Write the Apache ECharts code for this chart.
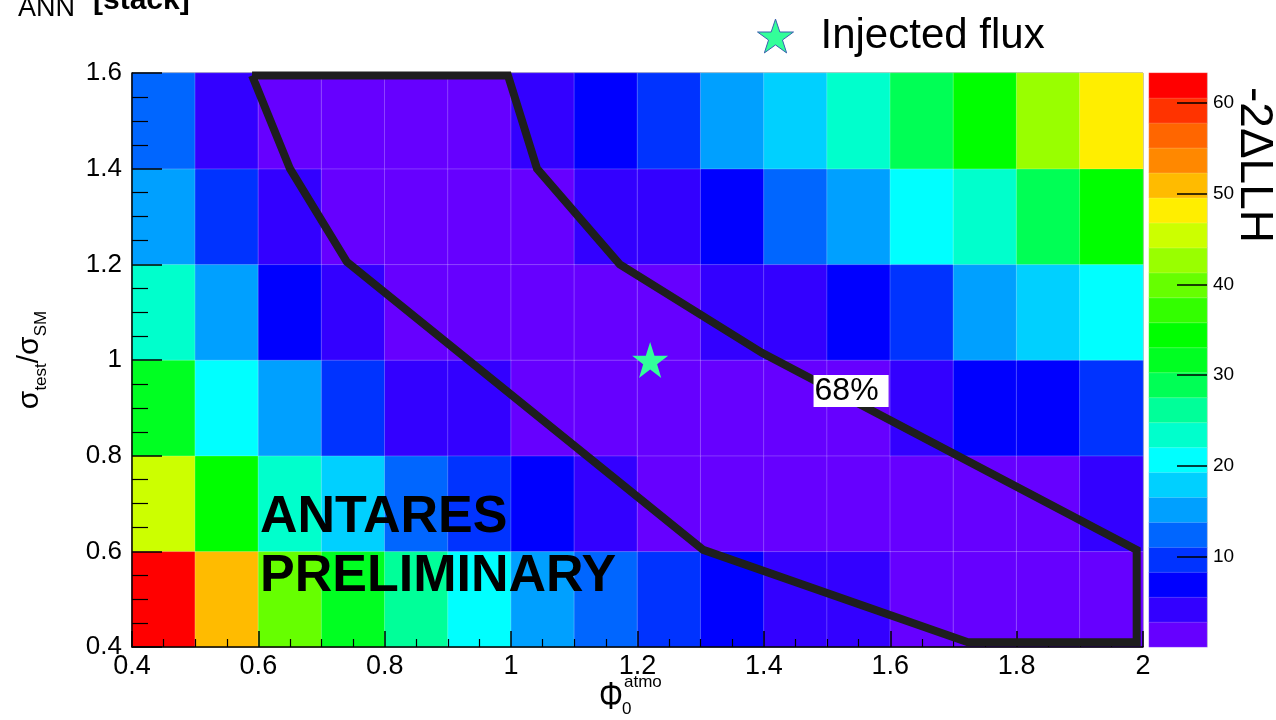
<!DOCTYPE html>
<html>
<head>
<meta charset="utf-8">
<script src="https://cdn.jsdelivr.net/npm/echarts@6/dist/echarts.min.js"></script>
<style>
  html, body { margin: 0; padding: 0; background: #fff; }
  #chart { width: 1276px; height: 720px; }
</style>
</head>
<body>
<div id="chart"></div>
<script>
// bin centres of the scan grid
const phiBins = [0.45, 0.55, 0.65, 0.75, 0.85, 0.95, 1.05, 1.15, 1.25, 1.35, 1.45, 1.55, 1.65, 1.75, 1.85, 1.95]
const sigmaBins = [0.5, 0.7, 0.9, 1.1, 1.3, 1.5]

// -2 delta LLH per bin, one array per sigma row (bottom to top)
const llhSigma05 = [62, 51, 40, 32, 26, 21, 15, 12.5, 9.6, 7.0, 4.2, 3.9, 1.5, 1.2, 1.0, 1.3]
const llhSigma07 = [45, 34, 23.5, 18, 12.3, 9.5, 7.1, 4.0, 1.6, 1.1, 0.9, 0.8, 1.0, 1.2, 1.6, 4.1]
const llhSigma09 = [31.8, 21, 15.2, 9.7, 4.3, 4.0, 2.1, 1.4, 0.9, 0.6, 0.8, 1.5, 4.0, 7.0, 7.3, 9.6]
const llhSigma11 = [23.4, 15.1, 6.9, 4.2, 2.2, 1.3, 0.8, 0.5, 0.7, 4.1, 4.3, 6.9, 9.5, 15.2, 18, 20.8]
const llhSigma13 = [15, 9.6, 4.1, 2.3, 1.5, 1.2, 1.6, 4.0, 4.2, 7.0, 12.4, 15, 20.7, 23.5, 29, 34.5]
const llhSigma15 = [12.2, 4.2, 2.0, 1.7, 1.8, 2.2, 4.1, 7.0, 9.6, 15.2, 18, 23.3, 29, 34.4, 42.7, 48.2]
const llhRows = [llhSigma05, llhSigma07, llhSigma09, llhSigma11, llhSigma13, llhSigma15]

// 68% contour (phi, sigma)
const contour68 = [
  [0.59, 1.595], [0.995, 1.595], [1.041, 1.4], [1.172, 1.2], [1.397, 1.015],
  [1.99, 0.603], [1.99, 0.41], [1.723, 0.41], [1.304, 0.603], [0.74, 1.205],
  [0.65, 1.4], [0.59, 1.595]
]
const injected = [[1.22, 1.0]]
const contourLabel = [[1.538, 0.935]]

// colour palette, lowest level first
const zMax = 63.3
const palette = [
  '#6600ff', '#3300ff', '#0000ff', '#0033ff', '#0066ff', '#00a0ff', '#00d0ff', '#00ffff',
  '#00ffcc', '#00ff99', '#00ff55', '#00ff22', '#00ff00', '#33ff00', '#66ff00', '#99ff00',
  '#ccff00', '#ffee00', '#ffbb00', '#ff8800', '#ff6600', '#ff3300', '#ff0000'
]
const zTicks = [10, 20, 30, 40, 50, 60]

const FONT = 'Liberation Sans'
const starPath = 'path://M50,0 L61.8,35.1 L98.9,35.1 L68.9,56.9 L80.2,91.9 L50,70.2 L19.8,91.9 L31.1,56.9 L1.1,35.1 L38.2,35.1 Z'

const levelWidth = zMax / palette.length
const pieces = palette.map((c, i) => ({ gte: i * levelWidth, lt: (i + 1) * levelWidth, color: c }))
pieces[pieces.length - 1].lte = zMax
delete pieces[pieces.length - 1].lt

const cellData = []
llhRows.forEach((row, j) => row.forEach((v, i) => cellData.push([i, j, v])))
const barData = palette.map((c, i) => [0, i, (i + 0.5) * levelWidth])

const chart = echarts.init(document.getElementById('chart'))

const option = {
  animation: false,
  grid: [
    { left: 132, top: 73, width: 1011, height: 574, show: true, borderColor: '#666', borderWidth: 1, outerBoundsMode: 'none', containLabel: false },
    { left: 1149, top: 73, width: 58, height: 574, outerBoundsMode: 'none', containLabel: false }
  ],
  visualMap: {
    type: 'piecewise',
    show: false,
    seriesIndex: [0, 1],
    dimension: 2,
    pieces: pieces
  },
  legend: {
    data: [{ name: 'Injected flux', icon: starPath }],
    left: 752,
    top: 10,
    itemWidth: 36,
    itemHeight: 34,
    itemStyle: { borderColor: '#3a5fb0', borderWidth: 1 },
    textStyle: { fontFamily: FONT, fontSize: 42, color: '#000', padding: [0, 0, 0, 22] }
  },
  xAxis: [
    { type: 'category', gridIndex: 0, data: phiBins, show: false },
    {
      type: 'value', gridIndex: 0, min: 0.4, max: 2.0, interval: 0.2, position: 'bottom', z: 10,
      axisLine: { lineStyle: { color: '#000', width: 1.5 } },
      axisTick: { inside: true, length: 16, lineStyle: { color: '#000', width: 1.5 } },
      minorTick: { show: true, splitNumber: 4, length: 8, lineStyle: { color: '#000', width: 1.2 } },
      splitLine: { show: false },
      axisLabel: { fontFamily: FONT, fontSize: 27, color: '#000', margin: 6 }
    },
    { type: 'category', gridIndex: 1, data: [''], show: false }
  ],
  yAxis: [
    { type: 'category', gridIndex: 0, data: sigmaBins, show: false },
    {
      type: 'value', gridIndex: 0, min: 0.4, max: 1.6, interval: 0.2, position: 'left', z: 10,
      axisLine: { lineStyle: { color: '#000', width: 1.5 } },
      axisTick: { inside: true, length: 30, lineStyle: { color: '#000', width: 1.5 } },
      minorTick: { show: true, splitNumber: 4, length: 16, lineStyle: { color: '#000', width: 1.2 } },
      splitLine: { show: false },
      axisLabel: { fontFamily: FONT, fontSize: 26, color: '#000', margin: 10 },
      name: '{s|σ}{sub|test}{s|/σ}{sub|SM}',
      nameLocation: 'middle',
      nameGap: 82,
      nameTextStyle: {
        rich: {
          s: { fontFamily: FONT, fontSize: 30, lineHeight: 40, color: '#000' },
          sub: { fontFamily: FONT, fontSize: 17, lineHeight: 17, verticalAlign: 'bottom', color: '#000' }
        }
      }
    },
    { type: 'category', gridIndex: 1, data: palette.map((c, i) => i), show: false },
    {
      type: 'value', gridIndex: 1, min: 0, max: zMax, interval: 10, position: 'right', z: 10,
      axisLine: { show: true, lineStyle: { color: 'rgba(0,0,0,0.12)', width: 1 } },
      axisTick: { show: true, inside: true, length: 30, customValues: zTicks, lineStyle: { color: '#000', width: 1.5 } },
      axisLabel: { customValues: zTicks, fontFamily: FONT, fontSize: 19, color: '#000', margin: 6 },
      splitLine: { show: false }
    }
  ],
  series: [
    {
      type: 'heatmap', xAxisIndex: 0, yAxisIndex: 0, data: cellData, z: 1,
      itemStyle: { borderColor: 'rgba(255,255,255,0.22)', borderWidth: 1 },
      emphasis: { disabled: true }, silent: true
    },
    {
      type: 'heatmap', xAxisIndex: 2, yAxisIndex: 2, data: barData, z: 1,
      itemStyle: { borderColor: 'rgba(255,255,255,0.18)', borderWidth: 1 },
      emphasis: { disabled: true }, silent: true
    },
    {
      type: 'line', xAxisIndex: 1, yAxisIndex: 1, data: contour68,
      symbol: 'none', clip: false, z: 12, silent: true,
      lineStyle: { color: '#1e1e1e', width: 8, join: 'miter' }
    },
    {
      name: 'Injected flux', type: 'scatter', xAxisIndex: 1, yAxisIndex: 1, data: injected,
      symbol: starPath, symbolSize: 36, z: 13,
      itemStyle: { color: '#33ff99', opacity: 1 }
    },
    {
      type: 'scatter', xAxisIndex: 1, yAxisIndex: 1, data: contourLabel,
      symbolSize: 1, z: 14, silent: true,
      itemStyle: { color: 'rgba(0,0,0,0)', opacity: 1 },
      label: {
        show: true, position: 'inside', formatter: '68%',
        fontFamily: FONT, fontSize: 32, lineHeight: 32, color: '#000',
        backgroundColor: '#fff', padding: [0, 10, 0, 1]
      }
    }
  ],
  graphic: [
    // title fragment cut by the top of the slide
    { type: 'text', x: -6, y: 6, style: { text: 'L', fontFamily: FONT, fontSize: 44, fill: '#000', align: 'left', verticalAlign: 'bottom' } },
    { type: 'text', x: 18, y: 22, style: { text: 'ANN', fontFamily: FONT, fontSize: 27, fill: '#000', align: 'left', verticalAlign: 'bottom' } },
    { type: 'text', x: 93, y: 16, style: { text: '[stack]', fontFamily: FONT, fontWeight: 'bold', fontSize: 30, fill: '#000', align: 'left', verticalAlign: 'bottom' } },
    // watermark
    { type: 'text', x: 260, y: 518, z: 20, style: { text: 'ANTARES', fontFamily: FONT, fontWeight: 'bold', fontSize: 52, fill: '#000', align: 'left', verticalAlign: 'middle' } },
    { type: 'text', x: 260, y: 577, z: 20, style: { text: 'PRELIMINARY', fontFamily: FONT, fontWeight: 'bold', fontSize: 52, fill: '#000', align: 'left', verticalAlign: 'middle' } },
    // x axis title
    { type: 'text', x: 611, y: 698, scaleY: 1.3, style: { text: 'Φ', fontFamily: FONT, fontSize: 30, fill: '#000', align: 'center', verticalAlign: 'middle' } },
    { type: 'text', x: 624, y: 682, style: { text: 'atmo', fontFamily: FONT, fontSize: 17, fill: '#000', align: 'left', verticalAlign: 'middle' } },
    { type: 'text', x: 622, y: 709, style: { text: '0', fontFamily: FONT, fontSize: 17, fill: '#000', align: 'left', verticalAlign: 'middle' } },
    // colour bar title
    { type: 'text', x: 1254, y: 165, rotation: -Math.PI / 2, style: { text: '-2ΔLLH', fontFamily: FONT, fontSize: 46, fill: '#000', align: 'center', verticalAlign: 'middle' } }
  ]
}

chart.setOption(option)
window.addEventListener('resize', () => chart.resize())
</script>
</body>
</html>
